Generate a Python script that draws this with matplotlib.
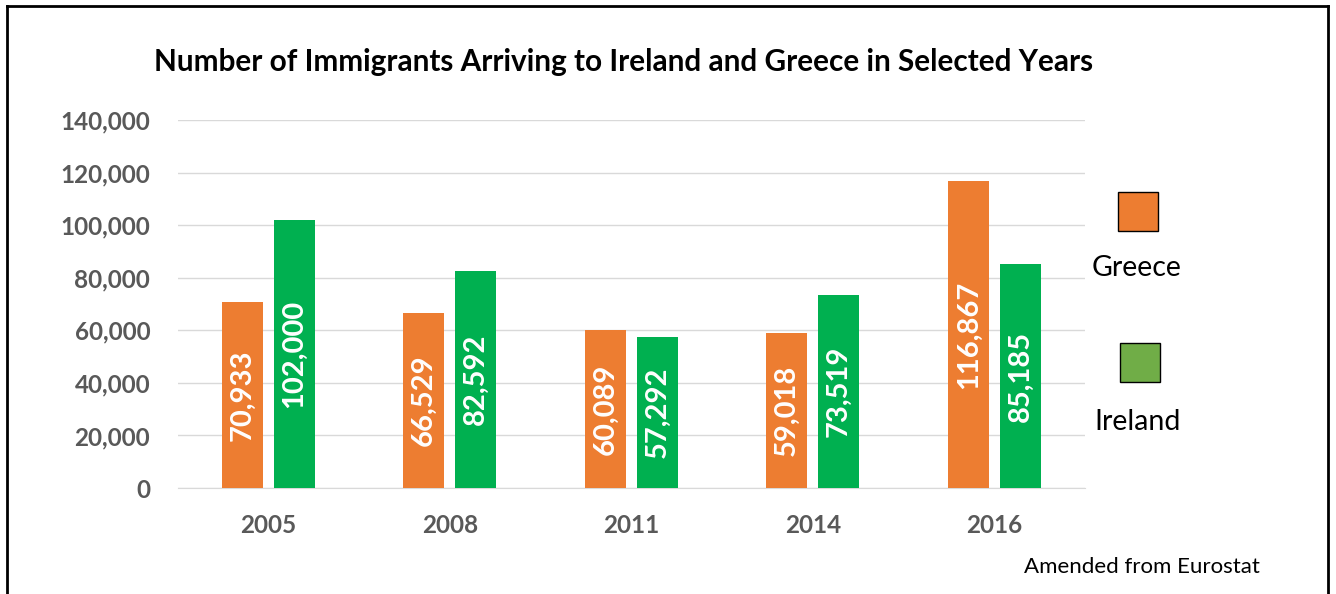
import matplotlib
matplotlib.use("Agg")
import matplotlib.pyplot as plt
from matplotlib.lines import Line2D
from matplotlib.patches import Rectangle
import numpy as np

years = ["2005", "2008", "2011", "2014", "2016"]
greece = [70933, 66529, 60089, 59018, 116867]
ireland = [102000, 82592, 57292, 73519, 85185]
yticks = [0, 20000, 40000, 60000, 80000, 100000, 120000, 140000]

ORANGE = "#ED7D31"
GREEN = "#00B050"
LEG_GREEN = "#70AD47"
GREY = "#595959"
GRID = "#D9D9D9"

plt.rcParams["font.family"] = ["Lato", "DejaVu Sans"]

W, H = 1336, 594
fig = plt.figure(figsize=(W / 100, H / 100), dpi=100)
ax = fig.add_axes([178 / W, 1 - 488 / H, (1085 - 178) / W, (488 - 120) / H])

x = np.arange(len(years))
bw = 0.226
off = 0.143
bg = ax.bar(x - off, greece, bw, color=ORANGE, zorder=3)
bi = ax.bar(x + off, ireland, bw, color=GREEN, zorder=3)

for bars, vals in ((bg, greece), (bi, ireland)):
    for b, v in zip(bars, vals):
        ax.text(b.get_x() + b.get_width() / 2, v / 2, f"{v:,}", rotation=90,
                ha="center", va="center", color="white", fontsize=21,
                fontweight="bold", zorder=4)

ax.set_xlim(-0.496, 4.498)
ax.set_ylim(0, 140000)
ax.set_yticks(yticks)
ax.set_yticklabels([f"{v:,}" for v in yticks])
ax.set_xticks(x)
ax.set_xticklabels(years)
ax.yaxis.grid(True, color=GRID, lw=1, zorder=0)
for s in ("top", "right", "left"):
    ax.spines[s].set_visible(False)
ax.spines["bottom"].set_color(GRID)
ax.tick_params(axis="both", length=0, labelsize=17.5, labelcolor=GREY)
ax.tick_params(axis="y", pad=20)
ax.tick_params(axis="x", pad=19)
for lab in ax.get_xticklabels() + ax.get_yticklabels():
    lab.set_fontweight("bold")

fig.text(624 / W, 1 - 62 / H, "Number of Immigrants Arriving to Ireland and Greece in Selected Years",
         ha="center", va="center", fontsize=21.4, fontweight="bold", color="black")

# legend drawn as separate squares and labels
fig.patches.append(Rectangle((1118 / W, 1 - 231 / H), 40 / W, 39 / H, transform=fig.transFigure,
                             facecolor=ORANGE, edgecolor="black", lw=1))
fig.patches.append(Rectangle((1120 / W, 1 - 382 / H), 40 / W, 39 / H, transform=fig.transFigure,
                             facecolor=LEG_GREEN, edgecolor="black", lw=1))
fig.text(1137 / W, 1 - 268 / H, "Greece", ha="center", va="center", fontsize=20.5, color="black")
fig.text(1138 / W, 1 - 422 / H, "Ireland", ha="center", va="center", fontsize=20.5, color="black")

fig.text(1142 / W, 1 - 567 / H, "Amended from Eurostat", ha="center", va="center",
         fontsize=16, color="black")

# outer frame (left, top, right)
for xs, ys in (([7, 7], [594, 6]), ([7, 1328], [6, 6]), ([1328, 1328], [6, 594])):
    fig.add_artist(Line2D([v / W for v in xs], [1 - v / H for v in ys], color="black", lw=2,
                          transform=fig.transFigure))

fig.savefig("out.png", dpi=100)
